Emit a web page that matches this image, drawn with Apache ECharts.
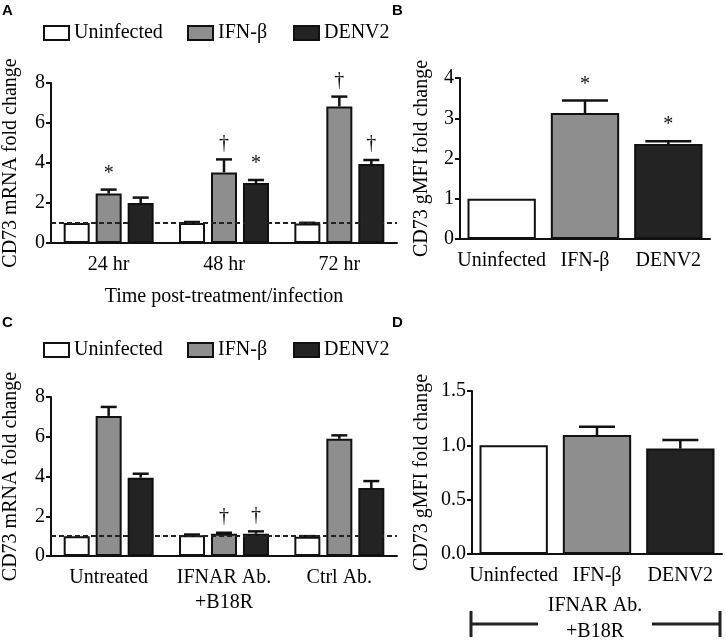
<!DOCTYPE html>
<html><head><meta charset="utf-8">
<script src="https://cdn.jsdelivr.net/npm/echarts@6/dist/echarts.min.js"></script>
<style>html,body{margin:0;padding:0;background:#fff}#c{width:726px;height:641px}</style>
</head><body><div id="c"></div>
<script>
// ---------- data ----------
const seriesNames = ['Uninfected', 'IFN-β', 'DENV2'];

// Panel A
const catA = ['24 hr', '48 hr', '72 hr'];
const aUninf = [1.0, 1.0, 0.98];
const aUninfSem = [0, 0.05, 0.03];
const aIfn = [2.47, 3.53, 6.83];
const aIfnSem = [0.2, 0.65, 0.49];
const aDenv = [2.0, 3.0, 3.95];
const aDenvSem = [0.27, 0.15, 0.2];
const aIfnMarks = ['*', '†', '†'];
const aDenvMarks = ['', '*', '†'];
const aYTicks = [0, 2, 4, 6, 8];

// Panel B
const catB = ['Uninfected', 'IFN-β', 'DENV2'];
const bVals = [1.0, 3.13, 2.36];
const bSem = [0, 0.31, 0.07];
const bMarks = ['', '*', '*'];
const bYTicks = [0, 1, 2, 3, 4];

// Panel C
const catC = ['Untreated', 'IFNAR Ab.\n+B18R', 'Ctrl Ab.'];
const cUninf = [1.0, 1.04, 0.97];
const cUninfSem = [0, 0.04, 0.03];
const cIfn = [7.05, 1.12, 5.9];
const cIfnSem = [0.45, 0.05, 0.17];
const cDenv = [3.94, 1.12, 3.42];
const cDenvSem = [0.2, 0.12, 0.35];
const cIfnMarks = ['', '†', ''];
const cDenvMarks = ['', '†', ''];

// Panel D
const catD = ['Uninfected', 'IFN-β', 'DENV2'];
const dVals = [1.0, 1.095, 0.97];
const dSem = [0, 0.075, 0.08];
const dYTicks = [0, 0.5, 1.0, 1.5];

const refLine = 1;

// ---------- styles ----------
const FONT = '"Liberation Serif", "Times New Roman", serif';
const colors = ['#ffffff', '#8e8e8e', '#232323'];
const BORDER = '#111';

function xAxisCfg(grid, cats, extra) {
  return Object.assign({
    type: 'category', gridIndex: grid, data: cats,
    axisLine: { lineStyle: { color: BORDER, width: 2 } },
    axisTick: { alignWithLabel: true, length: 5, lineStyle: { color: BORDER, width: 2 } },
    axisLabel: { interval: 0, color: '#000', fontSize: 20, fontFamily: FONT, margin: 9, lineHeight: 25 }
  }, extra || {});
}
function yAxisCfg(grid, ticks, name, gap, fmt) {
  return {
    type: 'value', gridIndex: grid, min: ticks[0], max: ticks[ticks.length - 1],
    interval: ticks[1] - ticks[0],
    name: name, nameLocation: 'middle', nameGap: gap,
    nameTextStyle: { color: '#000', fontSize: 20, fontFamily: FONT },
    axisLine: { show: true, lineStyle: { color: BORDER, width: 2 } },
    axisTick: { show: true, length: 5, lineStyle: { color: BORDER, width: 2 } },
    axisLabel: { color: '#000', fontSize: 20, fontFamily: FONT, margin: 6, formatter: fmt },
    splitLine: { show: false }
  };
}

function errRender(offsetPx, capW, marks) {
  return function (params, api) {
    const x = api.value(0), v = api.value(1), s = api.value(2);
    const base = api.coord([x, v]);
    const top = api.coord([x, v + s]);
    const cx = base[0] + offsetPx;
    const children = [];
    if (s > 0) {
      children.push({ type: 'line', shape: { x1: cx, y1: base[1], x2: cx, y2: top[1] }, style: { stroke: BORDER, lineWidth: 2.5 } });
      children.push({ type: 'line', shape: { x1: cx - capW / 2, y1: top[1], x2: cx + capW / 2, y2: top[1] }, style: { stroke: BORDER, lineWidth: 2.5 } });
    }
    const m = marks && marks[params.dataIndex];
    if (m) {
      children.push({ type: 'text', x: cx, y: top[1] - 6, style: { text: m, textAlign: 'center', textVerticalAlign: 'bottom', font: '20px ' + FONT, fill: '#111' } });
    }
    return { type: 'group', children: children };
  };
}

function barSeries(name, data, idx, grid, color) {
  return {
    type: 'bar', name: name, xAxisIndex: grid, yAxisIndex: grid, data: data,
    barWidth: 26, barGap: '23%', z: 2,
    itemStyle: { color: color, borderColor: BORDER, borderWidth: 2 }
  };
}
function errSeries(grid, vals, sems, offset, capW, marks) {
  return {
    type: 'custom', xAxisIndex: grid, yAxisIndex: grid, z: 3, silent: true,
    data: vals.map((v, i) => [i, v, sems[i]]),
    encode: { x: 0, y: 1 },
    renderItem: errRender(offset, capW, marks)
  };
}
function refSeries(grid) {
  return {
    type: 'line', xAxisIndex: grid, yAxisIndex: grid, data: [], z: 1, silent: true,
    markLine: { symbol: 'none', silent: true, label: { show: false },
      lineStyle: { type: [5, 3], color: '#222', width: 2 }, data: [{ yAxis: refLine }] }
  };
}
function singleBars(grid, vals) {
  return {
    type: 'bar', xAxisIndex: grid, yAxisIndex: grid, barWidth: '82%', z: 2,
    data: vals.map((v, i) => ({ value: v, itemStyle: { color: colors[i] } })),
    itemStyle: { borderColor: BORDER, borderWidth: 2 }
  };
}

const legendCommon = {
  icon: 'rect', itemWidth: 25, itemHeight: 14, padding: 0, selectedMode: false,
  itemStyle: { borderColor: BORDER, borderWidth: 2 },
  textStyle: { color: '#000', fontSize: 20, fontFamily: FONT }
};
const legendX = [43, 187, 293];
const legends = [];
[23, 340].forEach(top => {
  seriesNames.forEach((n, i) => legends.push(Object.assign({}, legendCommon, { data: [n], left: legendX[i], top: top })));
});

const option = {
  backgroundColor: '#fff',
  animation: false,
  legend: legends,
  grid: [
    { left: 48, top: 83, width: 349, height: 160 },
    { left: 460, top: 78, width: 250, height: 161 },
    { left: 48, top: 397, width: 349, height: 159 },
    { left: 472, top: 391, width: 250, height: 163 }
  ],
  xAxis: [
    xAxisCfg(0, catA, { name: 'Time post-treatment/infection', nameLocation: 'middle', nameGap: 44,
      nameTextStyle: { color: '#000', fontSize: 20, fontFamily: FONT } }),
    xAxisCfg(1, catB),
    xAxisCfg(2, catC),
    xAxisCfg(3, catD)
  ],
  yAxis: [
    yAxisCfg(0, aYTicks, 'CD73 mRNA fold change', 30),
    yAxisCfg(1, bYTicks, 'CD73 gMFI fold change', 28),
    yAxisCfg(2, aYTicks, 'CD73 mRNA fold change', 30),
    yAxisCfg(3, dYTicks, 'CD73 gMFI fold change', 40, v => v.toFixed(1))
  ],
  series: [
    refSeries(0),
    barSeries(seriesNames[0], aUninf, 0, 0, colors[0]),
    barSeries(seriesNames[1], aIfn, 1, 0, colors[1]),
    barSeries(seriesNames[2], aDenv, 2, 0, colors[2]),
    errSeries(0, aUninf, aUninfSem, -32, 16, null),
    errSeries(0, aIfn, aIfnSem, 0, 16, aIfnMarks),
    errSeries(0, aDenv, aDenvSem, 32, 16, aDenvMarks),

    singleBars(1, bVals),
    errSeries(1, bVals, bSem, 0, 46, bMarks),

    refSeries(2),
    barSeries(seriesNames[0], cUninf, 0, 2, colors[0]),
    barSeries(seriesNames[1], cIfn, 1, 2, colors[1]),
    barSeries(seriesNames[2], cDenv, 2, 2, colors[2]),
    errSeries(2, cUninf, cUninfSem, -32, 16, null),
    errSeries(2, cIfn, cIfnSem, 0, 16, cIfnMarks),
    errSeries(2, cDenv, cDenvSem, 32, 16, cDenvMarks),

    singleBars(3, dVals),
    errSeries(3, dVals, dSem, 0, 36, null)
  ],
  graphic: [
    { type: 'text', left: 2, top: 3, style: { text: 'A', font: 'bold 15px "Liberation Sans", Arial, sans-serif', fill: '#000' } },
    { type: 'text', left: 392, top: 3, style: { text: 'B', font: 'bold 15px "Liberation Sans", Arial, sans-serif', fill: '#000' } },
    { type: 'text', left: 2, top: 315, style: { text: 'C', font: 'bold 15px "Liberation Sans", Arial, sans-serif', fill: '#000' } },
    { type: 'text', left: 392, top: 315, style: { text: 'D', font: 'bold 15px "Liberation Sans", Arial, sans-serif', fill: '#000' } },
    // bracket under panel D
    { type: 'line', shape: { x1: 470, y1: 624, x2: 538, y2: 624 }, style: { stroke: '#222', lineWidth: 3 } },
    { type: 'line', shape: { x1: 652, y1: 624, x2: 721, y2: 624 }, style: { stroke: '#222', lineWidth: 3 } },
    { type: 'line', shape: { x1: 471, y1: 611, x2: 471, y2: 637 }, style: { stroke: '#222', lineWidth: 3 } },
    { type: 'line', shape: { x1: 720, y1: 611, x2: 720, y2: 637 }, style: { stroke: '#222', lineWidth: 3 } },
    { type: 'text', x: 595, y: 606, style: { text: 'IFNAR Ab.', textAlign: 'center', textVerticalAlign: 'middle', font: '20px ' + FONT, fill: '#000' } },
    { type: 'text', x: 595, y: 632, style: { text: '+B18R', textAlign: 'center', textVerticalAlign: 'middle', font: '20px ' + FONT, fill: '#000' } }
  ]
};

const chart = echarts.init(document.getElementById('c'), null, { renderer: 'canvas' });
chart.setOption(option);
</script>
</body></html>
